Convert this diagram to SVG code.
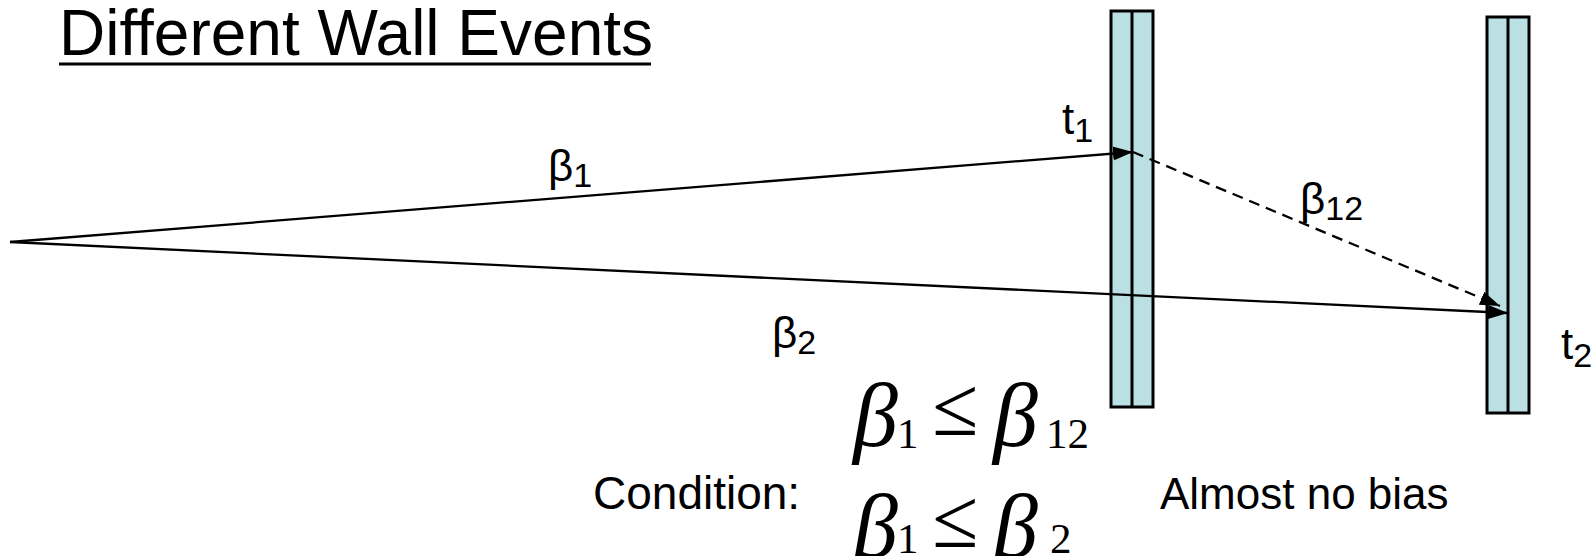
<svg xmlns="http://www.w3.org/2000/svg" width="1595" height="556" viewBox="0 0 1595 556">
<style>
.lbl{font-family:"Liberation Sans",Arial,sans-serif;font-size:44px;fill:#000}
.sub{font-size:34px}
.wall{fill:#BBE0E3;stroke:#000;stroke-width:3}
.mid{stroke:#000;stroke-width:3}
.ray{stroke:#000;stroke-width:2.3;fill:none}
.dash{stroke-dasharray:11,7}
.math{font-family:"Liberation Serif","Times New Roman",serif;fill:#000}
.mb{font-size:90px;font-style:italic}
.mo{font-size:84px}
.ms{font-size:43px}
</style>
<defs>
<marker id="arr" markerUnits="userSpaceOnUse" markerWidth="22" markerHeight="16" refX="20" refY="8" orient="auto">
<path d="M0,1 L20,8 L0,15 Z" fill="#000"/>
</marker>
</defs>
<rect width="1595" height="556" fill="#fff"/>
<g id="title">
<text class="lbl" x="59" y="55" style="font-size:64px">Different Wall Events</text>
<line x1="59" y1="64" x2="651" y2="64" stroke="#000" stroke-width="3"/>
</g>
<g id="wall1">
<rect class="wall" x="1111" y="11" width="42" height="396"/>
<line class="mid" x1="1132" y1="11" x2="1132" y2="407"/>
</g>
<g id="wall2">
<rect class="wall" x="1487" y="17" width="42" height="396"/>
<line class="mid" x1="1508" y1="17" x2="1508" y2="413"/>
</g>
<g id="connectors">
<line class="ray" x1="10" y1="242" x2="1133" y2="152" marker-end="url(#arr)"/>
<line class="ray" x1="10" y1="242" x2="1508" y2="313" marker-end="url(#arr)"/>
<line class="ray dash" x1="1133" y1="152" x2="1500" y2="306" marker-end="url(#arr)"/>
</g>
<g id="labels">
<text class="lbl" x="548" y="181">β<tspan class="sub" dy="6">1</tspan></text>
<text class="lbl" x="772" y="348">β<tspan class="sub" dy="6">2</tspan></text>
<text class="lbl" x="1300" y="214">β<tspan class="sub" dy="6">12</tspan></text>
<text class="lbl" x="1062" y="134">t<tspan class="sub" dy="8">1</tspan></text>
<text class="lbl" x="1561" y="359">t<tspan class="sub" dy="8">2</tspan></text>
<text class="lbl" x="593" y="509" style="font-size:46px">Condition:</text>
<text class="lbl" x="1160" y="509">Almost no bias</text>
</g>
<g id="formula1">
<text class="math mb" x="853" y="446">β</text>
<text class="math ms" x="897" y="448">1</text>
<text class="math mo" x="932" y="435">≤</text>
<text class="math mb" x="993" y="446">β</text>
<text class="math ms" x="1046" y="448">12</text>
</g>
<g id="formula2">
<text class="math mb" x="853" y="557">β</text>
<text class="math ms" x="897" y="553">1</text>
<text class="math mo" x="932" y="547">≤</text>
<text class="math mb" x="993" y="557">β</text>
<text class="math ms" x="1050" y="553">2</text>
</g>
</svg>
